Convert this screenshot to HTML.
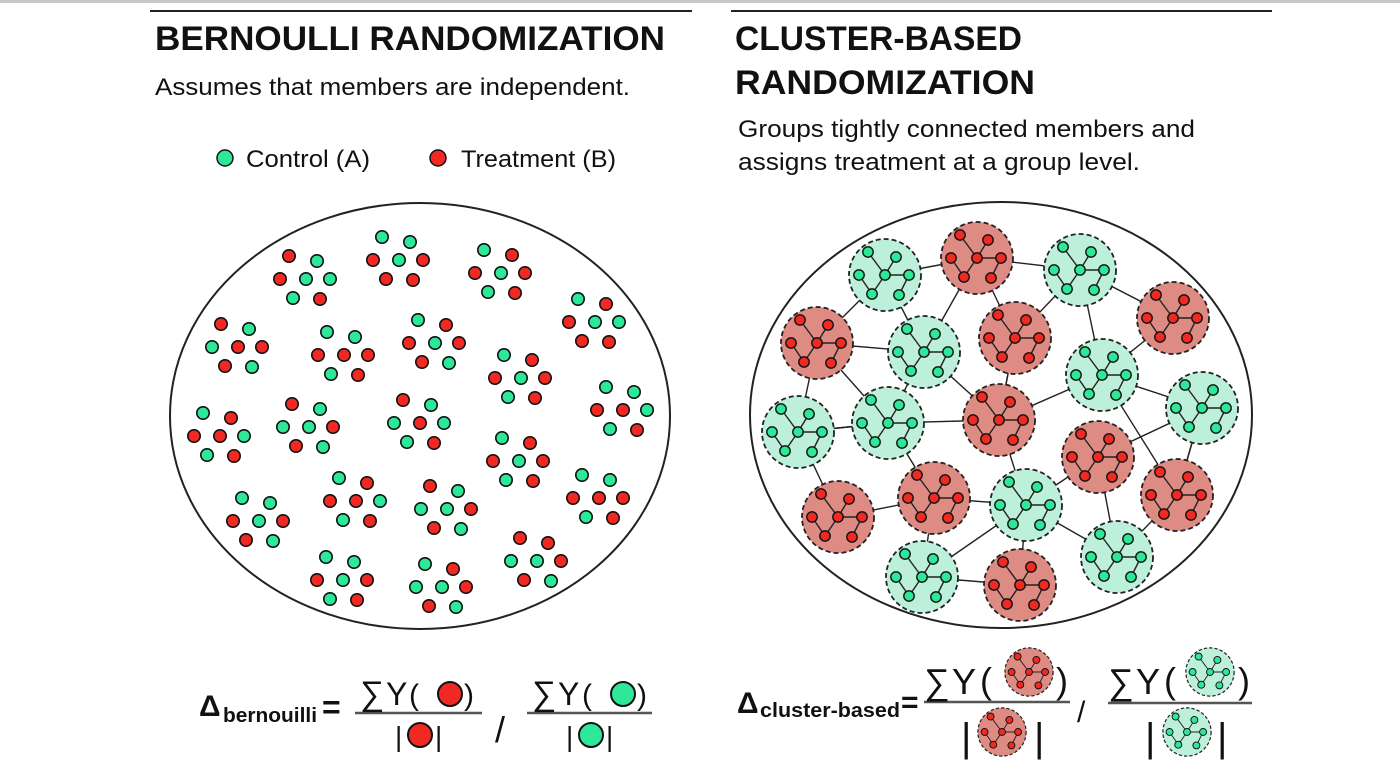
<!DOCTYPE html>
<html><head><meta charset="utf-8"><style>
html,body{margin:0;padding:0;background:#fff;}
svg{display:block;}
text{font-family:"Liberation Sans","DejaVu Sans",sans-serif;fill:#111;}
</style></head><body>
<svg id="fig" width="1400" height="780" viewBox="0 0 1400 780" xmlns="http://www.w3.org/2000/svg">
<rect x="0" y="0" width="1400" height="3" fill="#c8c8c8"/>
<line x1="150" y1="11" x2="692" y2="11" stroke="#222" stroke-width="2"/>
<line x1="731" y1="11" x2="1272" y2="11" stroke="#222" stroke-width="2"/>

<text x="155" y="50" font-size="34" font-weight="bold" textLength="510" lengthAdjust="spacingAndGlyphs">BERNOULLI RANDOMIZATION</text>
<text x="155" y="95" font-size="24" textLength="475" lengthAdjust="spacingAndGlyphs">Assumes that members are independent.</text>

<g>
<circle cx="225" cy="158" r="8" fill="#2ee89a" stroke="#111" stroke-width="1.5"/>
<text x="246" y="167" font-size="24" textLength="124" lengthAdjust="spacingAndGlyphs">Control (A)</text>
<circle cx="438" cy="158" r="8" fill="#f02a22" stroke="#111" stroke-width="1.5"/>
<text x="461" y="167" font-size="24" textLength="155" lengthAdjust="spacingAndGlyphs">Treatment (B)</text>
</g>

<text x="735" y="50" font-size="34" font-weight="bold" textLength="287" lengthAdjust="spacingAndGlyphs">CLUSTER-BASED</text>
<text x="735" y="94" font-size="34" font-weight="bold" textLength="300" lengthAdjust="spacingAndGlyphs">RANDOMIZATION</text>
<text x="738" y="137" font-size="24" textLength="457" lengthAdjust="spacingAndGlyphs">Groups tightly connected members and</text>
<text x="738" y="170" font-size="24" textLength="402" lengthAdjust="spacingAndGlyphs">assigns treatment at a group level.</text>

<ellipse cx="420" cy="416" rx="250" ry="213" fill="none" stroke="#222" stroke-width="2"/>
<ellipse cx="1001" cy="415" rx="251" ry="213" fill="none" stroke="#222" stroke-width="2"/>
<g id="left"></g>
<g id="rightEdges"></g>
<g id="right"></g>

<g>
<text x="199" y="716" font-size="30" font-weight="bold">Δ</text>
<text x="223" y="722" font-size="20" font-weight="bold" textLength="94" lengthAdjust="spacingAndGlyphs">bernouilli</text>
<text x="322" y="718" font-size="32" font-weight="bold">=</text>
<line x1="355" y1="713" x2="482" y2="713" stroke="#555" stroke-width="2.5"/>
<text x="360" y="705" font-size="34">∑</text>
<text x="386" y="705" font-size="32">Y</text>
<text x="409" y="705" font-size="30">(</text>
<circle cx="450" cy="694" r="12" fill="#f02a22" stroke="#111" stroke-width="2"/>
<text x="464" y="705" font-size="30">)</text>
<text x="395" y="746" font-size="28">|</text>
<circle cx="420" cy="735" r="12" fill="#f02a22" stroke="#111" stroke-width="2"/>
<text x="435" y="746" font-size="28">|</text>
<text x="495" y="742" font-size="36">/</text>
<line x1="527" y1="713" x2="652" y2="713" stroke="#555" stroke-width="2.5"/>
<text x="532" y="705" font-size="34">∑</text>
<text x="558" y="705" font-size="32">Y</text>
<text x="582" y="705" font-size="30">(</text>
<circle cx="623" cy="694" r="12" fill="#2ee89a" stroke="#111" stroke-width="2"/>
<text x="637" y="705" font-size="30">)</text>
<text x="566" y="746" font-size="28">|</text>
<circle cx="591" cy="735" r="12" fill="#2ee89a" stroke="#111" stroke-width="2"/>
<text x="606" y="746" font-size="28">|</text>
</g>

<g>
<text x="737" y="713" font-size="30" font-weight="bold">Δ</text>
<text x="760" y="717" font-size="20" font-weight="bold" textLength="140" lengthAdjust="spacingAndGlyphs">cluster-based</text>
<text x="901" y="712" font-size="30" font-weight="bold">=</text>
<line x1="924" y1="702" x2="1070" y2="702" stroke="#555" stroke-width="2.5"/>
<text x="924" y="694" font-size="36">∑</text>
<text x="952" y="694" font-size="36">Y</text>
<text x="980" y="693" font-size="36">(</text>
<text x="1056" y="693" font-size="36">)</text>
<text x="961" y="751" font-size="40">|</text>
<text x="1034" y="751" font-size="40">|</text>
<text x="1077" y="722" font-size="30">/</text>
<line x1="1108" y1="703" x2="1252" y2="703" stroke="#555" stroke-width="2.5"/>
<text x="1108" y="694" font-size="36">∑</text>
<text x="1136" y="694" font-size="36">Y</text>
<text x="1164" y="693" font-size="36">(</text>
<text x="1238" y="693" font-size="36">)</text>
<text x="1145" y="751" font-size="40">|</text>
<text x="1217" y="751" font-size="40">|</text>
<g id="icons"></g>
</g>
</svg>
<script>
const NS='http://www.w3.org/2000/svg';
const RED='#f02a22', GREEN='#2ee89a', RFILL='#de8b84', GFILL='#bdf0da';
const leftX=[306,399,501,595,238,344,435,521,623,220,309,420,519,599,259,356,447,537,343,442];
const leftY=[279,260,273,322,347,355,343,378,410,436,427,423,461,498,521,501,509,561,580,587];
const leftColors=['rgrgggr','ggrgrrr','grrgrgr','grrggrr','rggrrrg','ggrrrgr','grrgrrg','grrgrgr','ggrrggr','grrrggr','rgggrrg','rggrggr','grrgrgr','ggrrrgr','ggrgrrg','grrrggr','rgggrrg','rrggrrg','ggrgrgr','grggrrg'];
const rightX=[885,977,1080,1173,817,924,1015,1102,1202,798,888,999,1098,1177,838,934,1026,1117,922,1020];
const rightY=[275,258,270,318,343,352,338,375,408,432,423,420,457,495,517,498,505,557,577,585];
const rightGroup=['g','r','g','r','r','g','r','g','g','g','g','r','r','r','r','r','g','g','g','r'];
const linkFrom=[0,0,0,1,1,1,2,2,2,3,4,4,4,5,5,10,10,10,11,11,7,7,7,8,8,12,12,9,9,14,15,15,16,16,18,16,17,13,6];
const linkTo  =[1,4,5,2,5,6,3,6,7,7,5,9,10,10,11,11,9,15,6,16,8,13,11,12,13,16,17,10,14,15,16,18,17,19,19,18,13,8,11];
const OFF=[[-17,-23],[11,-18],[-26,0],[0,0],[24,0],[-13,19],[14,20]];
const TREE=[[0,3],[1,3],[3,4],[3,5],[2,5],[4,6]];
function el(tag,attrs,parent){const e=document.createElementNS(NS,tag);for(const k in attrs)e.setAttribute(k,attrs[k]);parent.appendChild(e);return e;}
const left=document.getElementById('left');
leftX.forEach((cx,i)=>{
  const g=el('g',{},left);
  
  
  OFF.forEach((o,j)=>{
    const c=el('circle',{cx:cx+o[0],cy:leftY[i]+o[1],r:6.2,fill:leftColors[i][j]==='r'?RED:GREEN,stroke:'#111','stroke-width':1.6},g);
    
    
  });
});
const re=document.getElementById('rightEdges');
linkFrom.forEach((a,i)=>{
  const b=linkTo[i];
  const l=el('line',{x1:rightX[a],y1:rightY[a],x2:rightX[b],y2:rightY[b],stroke:'#222','stroke-width':1.4},re);
  
  
});
function cluster(parent,cx,cy,grp,s){
  const g=el('g',{},parent);
  el('circle',{cx:cx,cy:cy,r:36*s,fill:grp==='r'?RFILL:GFILL,stroke:'#222','stroke-width':1.8*Math.max(s,0.6),'stroke-dasharray':(5*s)+','+(3*s)},g);
  TREE.forEach(t=>{el('line',{x1:cx+OFF[t[0]][0]*s,y1:cy+OFF[t[0]][1]*s,x2:cx+OFF[t[1]][0]*s,y2:cy+OFF[t[1]][1]*s,stroke:'#222','stroke-width':1.4*Math.max(s,0.6)},g);});
  OFF.forEach(o=>{el('circle',{cx:cx+o[0]*s,cy:cy+o[1]*s,r:5.2*s,fill:grp==='r'?RED:GREEN,stroke:'#111','stroke-width':1.4*Math.max(s,0.6)},g);});
  return g;
}
const right=document.getElementById('right');
rightX.forEach((cx,i)=>{
  const g=cluster(right,cx,rightY[i],rightGroup[i],1);
  
  
});
const icons=document.getElementById('icons');
const iconX=[1029,1002,1210,1187], iconY=[672,732,672,732], iconG=['r','r','g','g'];
iconX.forEach((x,i)=>{
  const g=cluster(icons,x,iconY[i],iconG[i],0.67);
  
  
});
</script>
</body></html>
